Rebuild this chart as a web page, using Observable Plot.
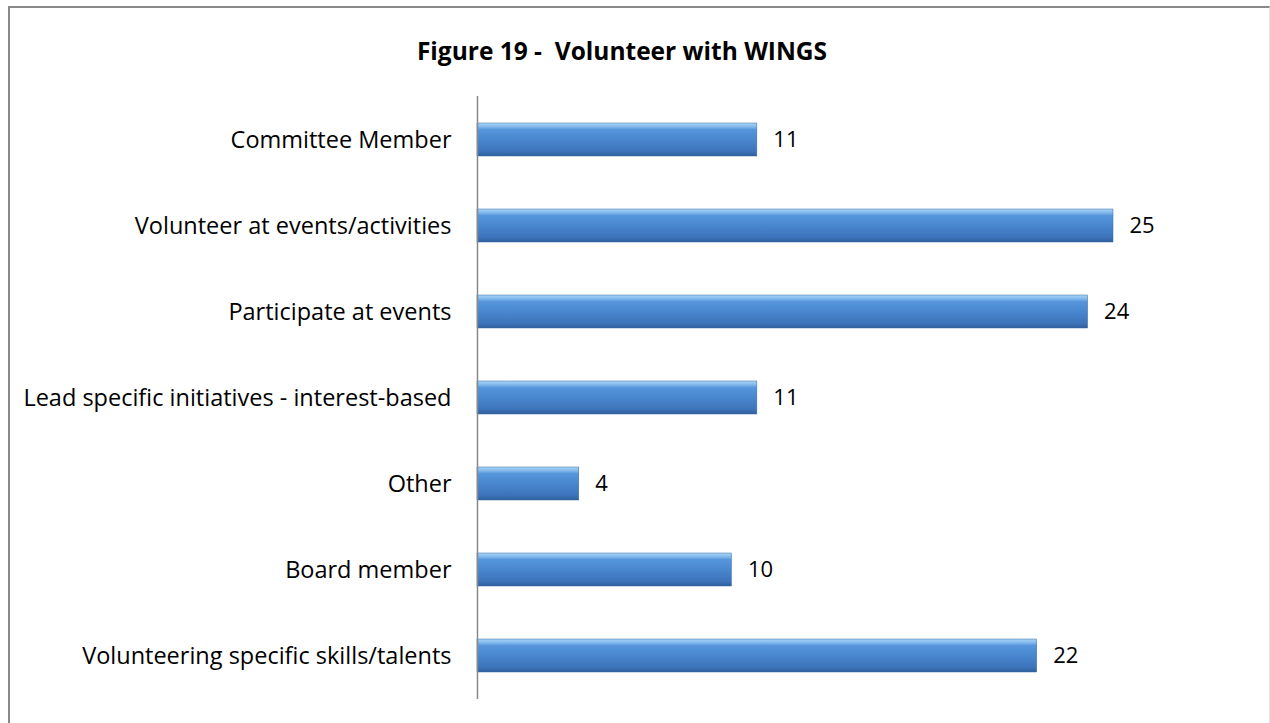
<!DOCTYPE html>
<html>
<head>
<meta charset="utf-8">
<script src="https://cdn.jsdelivr.net/npm/d3@7"></script>
<script src="https://cdn.jsdelivr.net/npm/@observablehq/plot@0.6"></script>
<style>
  html, body { margin: 0; padding: 0; background: #fff; width: 1270px; height: 723px; overflow: hidden; }
  #frame { position: absolute; left: 8px; top: 6px; width: 1262px; height: 740px; border-left: 2px solid #898989; border-top: 2px solid #898989; border-right: 1px solid #e6e6e6; box-sizing: border-box; }
  #title { position: absolute; left: 0; top: 34px; width: 1244px; text-align: center; font-family: "Open Sans", sans-serif; font-weight: bold; font-size: 24.5px; line-height: 34px; color: #000; white-space: pre; }
  #chart { position: absolute; left: 0; top: 80px; }
</style>
</head>
<body>
<div id="frame"></div>
<div id="title">Figure 19 -  Volunteer with WINGS</div>
<div id="chart"></div>
<script>
const categories = [
  "Committee Member",
  "Volunteer at events/activities",
  "Participate at events",
  "Lead specific initiatives - interest-based",
  "Other",
  "Board member",
  "Volunteering specific skills/talents"
];
const counts = [11, 25, 24, 11, 4, 10, 22];

const data = categories.map((c, i) => ({category: c, count: counts[i]}));

const chart = Plot.plot({
  width: 1270,
  height: 643,
  marginLeft: 477,
  marginRight: 157,
  marginTop: 16,
  marginBottom: 24,
  style: {fontFamily: "'Open Sans', sans-serif", fontSize: "23.5px", color: "#000", background: "transparent"},
  x: {domain: [0, 25], axis: null},
  y: {domain: categories, paddingInner: 0.62, paddingOuter: 0.31, label: null, tickSize: 0, tickPadding: 26},
  marks: [
    Plot.barX(data, {x: "count", y: "category", fill: "url(#barGrad)", stroke: "#3569a8", strokeWidth: 0.5,
      style: "filter: drop-shadow(2px 3px 2px rgba(0,0,0,0.35))"}),
    Plot.text(data, {x: "count", y: "category", text: d => String(d.count), textAnchor: "start", dx: 16, fontSize: 22, fill: "#000"}),
    Plot.ruleX([0], {stroke: "#898989", strokeWidth: 1.5})
  ]
});

const defs = d3.select(chart).insert("defs", ":first-child");
const g = defs.append("linearGradient").attr("id", "barGrad").attr("x1", 0).attr("y1", 0).attr("x2", 0).attr("y2", 1);
[[0, "#a9d6f7"], [0.12, "#7fb6ea"], [0.2, "#5596dc"], [0.55, "#4784cc"], [0.85, "#3d74ba"], [1, "#2f5f9c"]]
  .forEach(([o, c]) => g.append("stop").attr("offset", o).attr("stop-color", c));

document.getElementById("chart").appendChild(chart);
</script>
</body>
</html>
